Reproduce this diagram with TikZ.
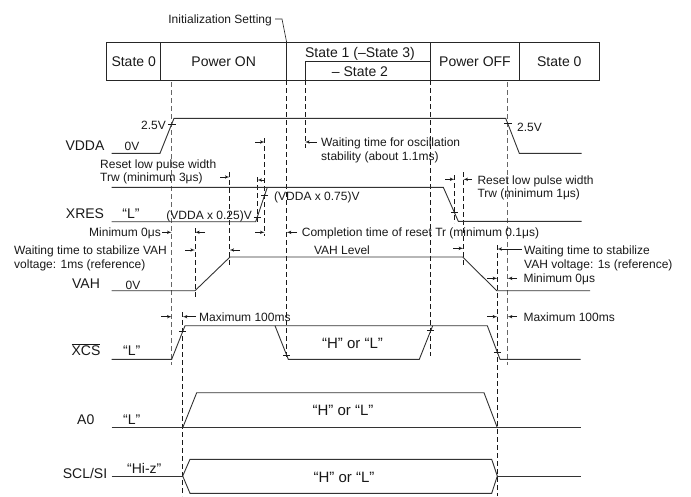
\documentclass[tikz,border=0pt]{standalone}
\usepackage{fontspec}
\setmainfont{Liberation Sans}
\usetikzlibrary{arrows}

\begin{document}
\begin{tikzpicture}[x=1pt,y=-1pt,>=latex']
	\tikzstyle{bar} = [draw=black!85, line width=0.8pt]
	\tikzstyle{wave} = [draw=black!80, line width=0.9pt]
	\tikzstyle{guide} = [draw=black!90, line width=0.7pt, dash pattern=on 5pt off 3pt]
	\tikzstyle{guidegray} = [guide, draw=black!60, line width=0.9pt]
	\tikzstyle{dim} = [->, draw=black!90, line width=0.6pt]
	\tikzstyle{tick} = [draw=black!90, line width=0.7pt]
	\tikzstyle{txt} = [inner sep=0pt, text=black!90, font=\fontsize{12}{14}\selectfont, text height=8.6pt, text depth=0pt]
	\tikzstyle{sig} = [inner sep=0pt, text=black!90, font=\fontsize{14}{16}\selectfont, text height=10pt, text depth=0pt]
	\tikzstyle{bus} = [inner sep=0pt, text=black!90, font=\fontsize{15}{17}\selectfont, text height=10.7pt, text depth=0pt]

	\useasboundingbox (0,0) rectangle (691,496);

	% state bar
	\draw[bar] (106.7,42.5) rectangle (599.3,80);
	\draw[bar] (160.7,42.5) -- (160.7,80);
	\draw[bar] (286.7,42.5) -- (286.7,80);
	\draw[bar] (430.7,42.5) -- (430.7,80);
	\draw[bar] (519.3,42.5) -- (519.3,80);
	\draw[bar] (305,80) -- (305,61.7) -- (430.7,61.7);
	\node[sig] (stzero) at (133.7,61) {State 0};
	\node[sig] (pwron) at (223.7,61) {Power ON};
	\node[sig] (stone) at (360,52) {State 1 (–State 3)};
	\node[sig] (sttwo) at (360,71) {– State 2};
	\node[sig] (pwroff) at (475,61) {Power OFF};
	\node[sig] (stzeroend) at (559.3,61) {State 0};
	\node[txt, anchor=east] (init) at (272,19) {Initialization Setting};
	\draw[bar, line width=0.6pt] ([xshift=3pt]init.east) -- ++(7,0) -- (286.7,42.5);

	% guide lines
	\draw[guidegray] (171.7,82) -- (171.7,365);
	\draw[guide] (286.7,80) -- (286.7,358);
	\draw[guide] (305,80) -- (305,148);
	\draw[guide] (430.7,80) -- (430.7,356);
	\draw[guidegray] (507.7,82) -- (507.7,365);
	\draw[guide] (182.7,312) -- (182.7,496);
	\draw[guide] (497.3,245) -- (497.3,496);
	\draw[guide] (229.5,172) -- (229.5,265);
	\draw[guide] (264.7,138) -- (264.7,236);
	\draw[guide] (257.3,177) -- (257.3,224);
	\draw[guide] (195,228) -- (195,298);
	\draw[guide] (454.5,175) -- (454.5,223);
	\draw[guide] (463.3,172) -- (463.3,267);

	% VDDA
	\node[sig] (vdda) at (85,145) {VDDA};
	\node[txt] (vddalow) at (132,146) {0V};
	\draw[wave] (111.7,153.3) -- (160,153.3) -- (174,118.3) -- (505.7,118.3) -- (519.3,153.3) -- (581.7,153.3);
	\draw[tick] (168,124) -- (175.5,124);
	\draw[tick] (504,123.5) -- (511.5,123.5);
	\node[txt, anchor=east] (vup) at (166,125) {2.5V};
	\node[txt, anchor=west] (vdown) at (517,127) {2.5V};

	% oscillation
	\draw[dim] (255,142) -- (264.7,142);
	\draw[dim] (316.7,142) -- (305,142);
	\node[txt, anchor=west] (osca) at (321,142.5) {Waiting time for oscillation};
	\node[txt, anchor=west] (oscb) at (321,156) {stability (about 1.1ms)};

	% XRES
	\node[sig] (xres) at (85,213.3) {XRES};
	\node[sig] (xreslow) at (131,213) {“L”};
	\draw[wave] (111.7,187.3) -- (443.3,187.3) -- (458.3,221.3) -- (581.7,221.3);
	\draw[wave] (111.7,221.7) -- (255.7,221.7) -- (267.3,187.3);
	\draw[tick] (253.8,217) -- (260.8,217);
	\draw[tick] (261.2,195) -- (268.2,195);
	\draw[tick] (451,212.7) -- (458,212.7);
	\node[txt, anchor=west] (thhigh) at (274,196.5) {(VDDA x 0.75)V};
	\node[txt, anchor=east] (thlow) at (252,215.5) {(VDDA x 0.25)V};
	\node[txt, anchor=west] (trwa) at (100,164) {Reset low pulse width};
	\node[txt, anchor=west] (trwb) at (100,177) {Trw (minimum 3μs)};
	\draw[dim] (220,177) -- (229.5,177);
	\draw[dim] (264.7,180) -- (257.3,180);
	\draw[dim] (445,179.3) -- (454.5,179.3);
	\draw[dim] (472,179.3) -- (463.3,179.3);
	\node[txt, anchor=west] (trwc) at (477.3,180) {Reset low pulse width};
	\node[txt, anchor=west] (trwd) at (477.3,193.3) {Trw (minimum 1μs)};

	% reset timing
	\node[txt, anchor=east] (minl) at (161,232.3) {Minimum 0μs};
	\draw[dim] (162,232.3) -- (171.7,232.3);
	\draw[dim] (205,232.3) -- (195,232.3);
	\draw[dim] (255,232.3) -- (264.7,232.3);
	\draw[dim] (297,232.3) -- (286.7,232.3);
	\node[txt, anchor=west] (trc) at (301.7,232.3) {Completion time of reset Tr (minimum 0.1μs)};

	% VAH
	\node[txt, anchor=west] (vahwa) at (14,250) {Waiting time to stabilize VAH};
	\node[txt, anchor=west] (vahwb) at (14,264.3) {voltage: 1ms (reference)};
	\draw[dim] (185,250) -- (195,250);
	\draw[dim] (240,250) -- (229.5,250);
	\node[txt] (vahlvl) at (342,250) {VAH Level};
	\draw[dim] (453.3,248.3) -- (463.3,248.3);
	\draw[dim] (521.7,249) -- (497.3,249);
	\node[txt, anchor=west] (vahwc) at (524,250) {Waiting time to stabilize};
	\node[txt, anchor=west] (vahwd) at (524,264) {VAH voltage: 1s (reference)};
	\node[sig] (vah) at (86,283.3) {VAH};
	\node[txt] (vahlow) at (133,285) {0V};
	\draw[wave] (111.7,290.7) -- (195,290.7) -- (230,257) -- (462.7,257) -- (496.7,290.7) -- (590,290.7);
	\draw[dim] (487,278.3) -- (497.3,278.3);
	\draw[dim] (517,278.3) -- (507.7,278.3);
	\node[txt, anchor=west] (minr) at (523.3,278.3) {Minimum 0μs};

	% XCS
	\draw[dim] (161,316.7) -- (171.7,316.7);
	\draw[dim] (196,316.7) -- (182.7,316.7);
	\node[txt, anchor=west] (maxl) at (199,316.7) {Maximum 100ms};
	\draw[dim] (487,316.7) -- (497.3,316.7);
	\draw[dim] (517,316.7) -- (507.7,316.7);
	\node[txt, anchor=west] (maxr) at (523.3,316.7) {Maximum 100ms};
	\node[sig] (xcs) at (86,350.7) {$\overline{\mbox{XCS}}$};
	\node[sig] (xcslow) at (131.7,350) {“L”};
	\draw[wave] (111.7,359.3) -- (171.7,359.3) -- (185,325.7) -- (487.3,325.7) -- (500,359.3) -- (580.7,359.3);
	\draw[wave] (275,325.7) -- (288.3,359.3) -- (419.3,359.3) -- (432.7,325.7);
	\draw[tick] (179.2,331.5) -- (186.2,331.5);
	\draw[tick] (283.2,355.3) -- (290.2,355.3);
	\draw[tick] (427.2,330.7) -- (434.2,330.7);
	\draw[tick] (493.8,352.2) -- (500.8,352.2);
	\node[bus] (xcsval) at (352.5,343.3) {“H” or “L”};

	% A0
	\node[sig] (azero) at (85.8,419.3) {A0};
	\node[sig] (azerolow) at (131.7,419) {“L”};
	\draw[wave] (111.7,427.7) -- (580.7,427.7);
	\draw[wave] (182.7,427.7) -- (196.7,392.7) -- (484,392.7) -- (497.3,427.7);
	\node[bus] (azeroval) at (343,410) {“H” or “L”};

	% SCL/SI
	\node[sig] (sclsi) at (85,473.3) {SCL/SI};
	\node[sig, anchor=west] (sclsiz) at (127,468.3) {“Hi-z”};
	\draw[wave] (111.7,476) -- (182.7,476);
	\draw[wave] (182.7,476) -- (190,459.3) -- (491.7,459.3) -- (497.3,476) -- (491.7,493.3) -- (190,493.3) -- cycle;
	\draw[wave] (497.3,476) -- (580.7,476);
	\node[bus] (sclsival) at (344,476.7) {“H” or “L”};
\end{tikzpicture}
\end{document}
